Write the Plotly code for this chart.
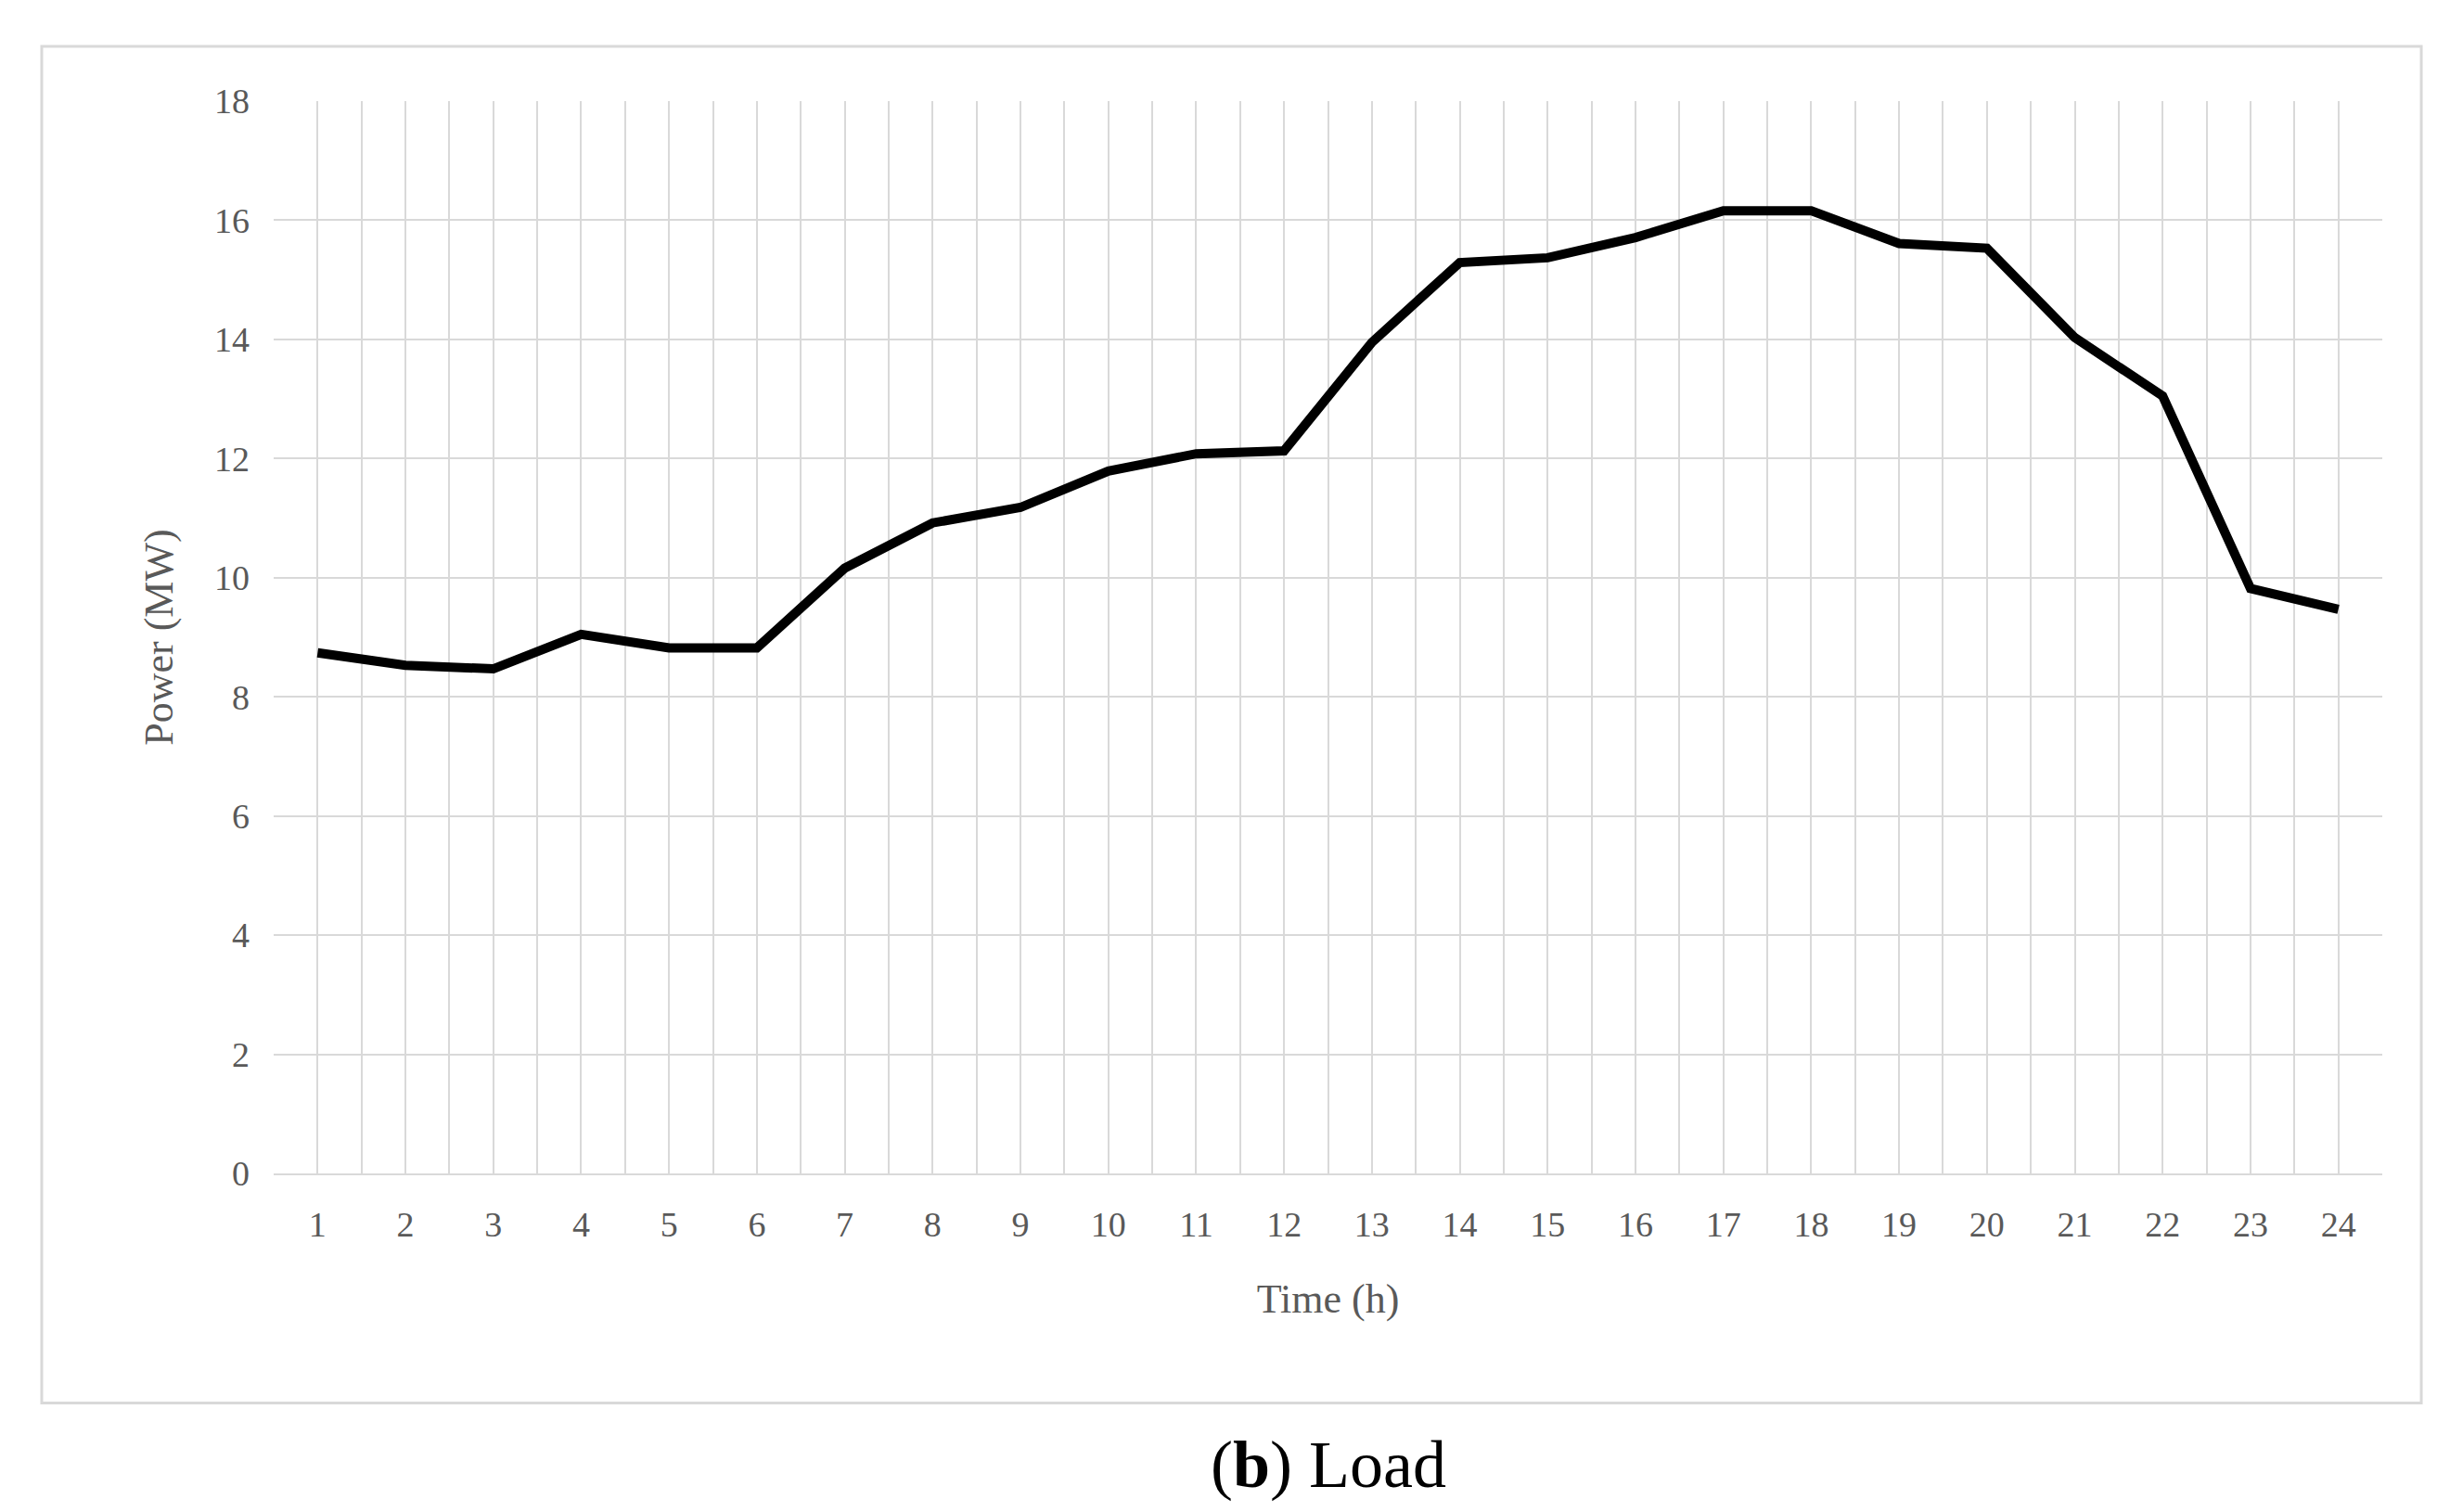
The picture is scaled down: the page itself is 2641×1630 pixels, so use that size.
import plotly.graph_objs as go

hours = list(range(1, 25))
load_mw = [8.74, 8.53, 8.47, 9.05, 8.82, 8.82, 10.16, 10.92, 11.18, 11.79, 12.08, 12.13,
           13.95, 15.29, 15.37, 15.71, 16.16, 16.16, 15.61, 15.53, 14.03, 13.05, 9.82, 9.47]
y_ticks = list(range(0, 19, 2))

font = "Liberation Serif"
grey = "#595959"
grid = "#d9d9d9"

fig = go.Figure()
fig.add_trace(go.Scatter(x=hours, y=load_mw, mode="lines",
                         line=dict(color="black", width=10), showlegend=False))

fig.update_layout(
    width=2641, height=1630,
    margin=dict(l=287, r=81, t=101, b=373),
    paper_bgcolor="white", plot_bgcolor="white",
    font=dict(family=font, size=38, color=grey),
    xaxis=dict(range=[0.5, 24.5], tickvals=hours, showgrid=False, zeroline=False,
               ticks="", showline=True, linecolor=grid, linewidth=2, automargin=False,
               ticklabelstandoff=20,
               minor=dict(dtick=0.5, tick0=0.5, showgrid=True, gridcolor=grid, gridwidth=2),
               title=dict(text="Time (h)", standoff=45, font=dict(size=44, color=grey))),
    yaxis=dict(range=[0, 18], tickvals=y_ticks, showgrid=True, gridcolor=grid, gridwidth=2,
               zeroline=False, ticks="", automargin=False, ticklabelstandoff=25,
               title=dict(text="Power (MW)", standoff=30, font=dict(size=44, color=grey))),
)

# outer frame around the chart
fig.add_shape(type="rect", xref="paper", yref="paper",
              x0=-0.11, x1=1.0185, y0=-0.214, y1=1.051,
              line=dict(color="#d9d9d9", width=3), layer="below")

fig.add_annotation(xref="paper", yref="paper", x=0.5, y=-0.272, yanchor="middle",
                   showarrow=False, text="(<b>b</b>) Load",
                   font=dict(family=font, size=72, color="black"))

fig.write_html("out.html")
